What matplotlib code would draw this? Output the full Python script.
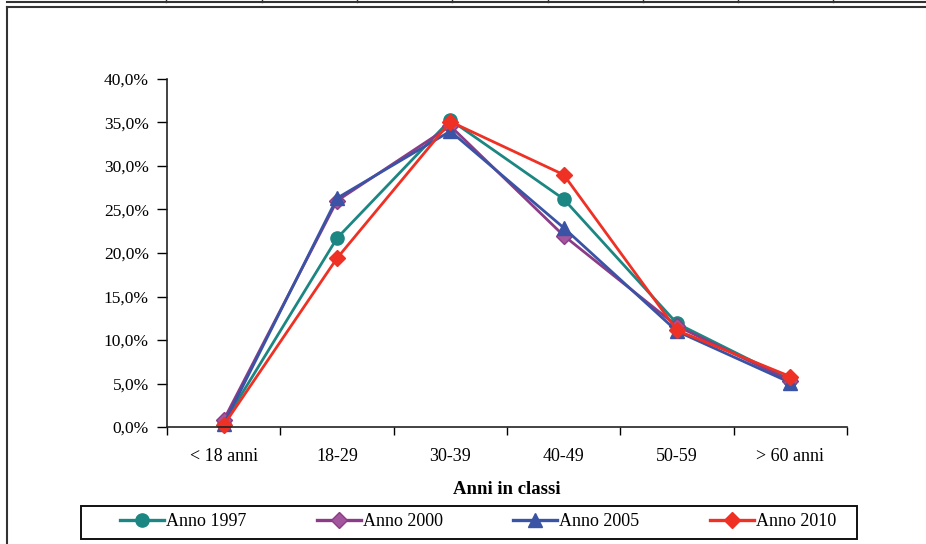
"""
Distribuzione per classi di eta' - confronto 1997/2000/2005/2010
"""

import matplotlib
matplotlib.use("Agg")
import matplotlib.pyplot as plt
from matplotlib.lines import Line2D
from matplotlib.patches import Rectangle
from matplotlib.ticker import FuncFormatter, MultipleLocator

# Data:
classi = ['< 18 anni', '18-29', '30-39', '40-49', '50-59', '> 60 anni']
anno_1997 = [0.4, 21.7, 35.3, 26.2, 11.9, 5.4]
anno_2000 = [0.8, 26.0, 34.6, 22.0, 11.6, 5.3]
anno_2005 = [0.3, 26.3, 34.0, 22.9, 11.0, 5.1]
anno_2010 = [0.2, 19.4, 35.1, 29.0, 11.1, 5.8]

W, H = 926, 544


def fx(x):
    return x / W


def fy(y):
    return 1 - y / H


plt.rcParams['font.family'] = ['Liberation Serif', 'DejaVu Serif']

fig = plt.figure(figsize=(9.26, 5.44), dpi=100)
ax = fig.add_axes([fx(167), fy(427), fx(847) - fx(167), fy(79) - fy(427)])

xs = range(len(classi))
ax.plot(xs, anno_1997, color='#1b8682', lw=2.0, marker='o', ms=9.5,
        mfc='#1b8682', mec='#1b8682', label='Anno 1997', clip_on=False)
ax.plot(xs, anno_2000, color='#8b3c86', lw=2.0, marker='D', ms=8,
        mfc='#a3569d', mec='#8b3c86', label='Anno 2000', clip_on=False)
ax.plot(xs, anno_2005, color='#3a53a4', lw=2.0, marker='^', ms=10.5,
        mfc='#3a53a4', mec='#3a53a4', label='Anno 2005', clip_on=False)
ax.plot(xs, anno_2010, color='#ee3124', lw=2.0, marker='D', ms=8,
        mfc='#ee3124', mec='#ee3124', label='Anno 2010', clip_on=False)

# Axes
ax.set_xlim(-0.5, len(classi) - 0.5)
ax.set_ylim(0, 40)
ax.yaxis.set_major_locator(MultipleLocator(5))
ax.yaxis.set_major_formatter(FuncFormatter(lambda v, p: ('%.1f%%' % v).replace('.', ',')))
ax.set_xticks([i - 0.5 for i in range(len(classi) + 1)])
ax.set_xticklabels([])
ax.set_xticks(list(xs), minor=True)
ax.set_xticklabels(classi, minor=True)
ax.tick_params(axis='x', which='major', length=6, width=1, direction='out')
ax.tick_params(axis='x', which='minor', length=0, pad=15, labelsize=13)
ax.tick_params(axis='y', length=7, width=1, direction='out', pad=6, labelsize=12.5)
for s in ['top', 'right']:
    ax.spines[s].set_visible(False)
for s in ['left', 'bottom']:
    ax.spines[s].set_color('#222222')
    ax.spines[s].set_linewidth(1.2)
ax.set_xlabel('Anni in classi', fontsize=13.5, fontweight='bold', labelpad=12)

# Legend with its own box
leg = fig.legend(loc='center', bbox_to_anchor=(fx(478), fy(522)), ncol=4, frameon=False,
                 fontsize=13, handlelength=2.45, handletextpad=0.1, columnspacing=3.9)
for h in leg.legend_handles:
    h.set_linewidth(2.4)
fig.add_artist(Rectangle((fx(81), fy(539)), fx(857) - fx(81), fy(506) - fy(539),
                         transform=fig.transFigure, fill=False, ec='#111111', lw=1.4))

# Page frame and table lines
fig.add_artist(Line2D([fx(7), fx(7)], [fy(7), 0], transform=fig.transFigure, color='#333333', lw=1.5))
fig.add_artist(Line2D([fx(7), 1], [fy(7), fy(7)], transform=fig.transFigure, color='#333333', lw=1.5))
fig.add_artist(Line2D([fx(7), 1], [fy(2), fy(2)], transform=fig.transFigure, color='#333333', lw=1.5))
for xv in [166, 262, 357, 452, 548, 643, 738, 833]:
    fig.add_artist(Line2D([fx(xv), fx(xv)], [1, fy(2)], transform=fig.transFigure, color='#333333', lw=1))

fig.savefig('out.png', dpi=100)
